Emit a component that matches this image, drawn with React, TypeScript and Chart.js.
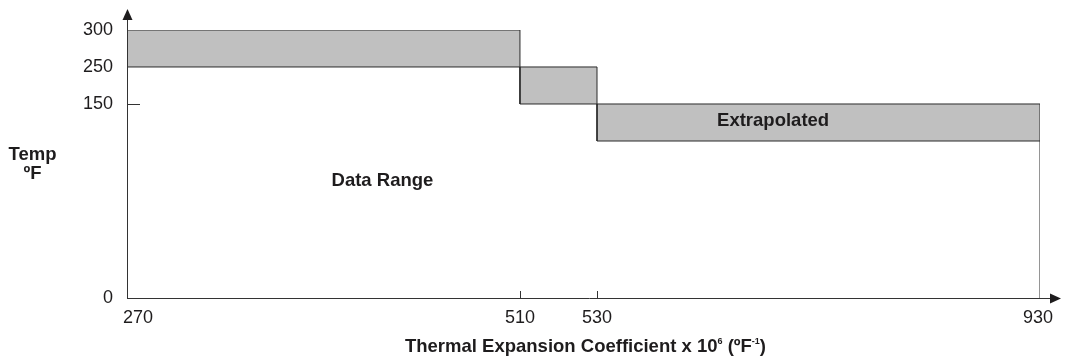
import React, { useEffect, useRef } from "react";
import { Chart, registerables, LinearScale } from "chart.js";

Chart.register(...registerables);

// ---- data ----
const xTickValues = [270, 510, 530, 930];
const yTickValues = [0, 150, 250, 300];
const boxNames = ["Upper step", "Middle step", "Extrapolated"];
const boxXStart = [270, 510, 530];
const boxXEnd = [510, 530, 930];
const boxYLow = [250, 150, 100];
const boxYHigh = [300, 250, 150];
const dataRangeEdgeX = [930, 930];
const dataRangeEdgeY = [0, 100];

// ---- schematic (piecewise) axis layout ----
const xBreakValues = [270, 510, 530, 930];
const xBreakFractions = [0, 0.4304, 0.5148, 1];
const yBreakValues = [0, 100, 150, 250, 300];
const yBreakFractions = [0, 0.5858, 0.7239, 0.862, 1];

const BREAKS: Record<string, { v: number[]; f: number[] }> = {
  x: { v: xBreakValues, f: xBreakFractions },
  y: { v: yBreakValues, f: yBreakFractions },
};

class PiecewiseScale extends LinearScale {
  static id = "piecewise";
  static defaults = {};
  getPixelForValue(value: number) {
    const b = BREAKS[(this as any).id];
    const v = b.v, f = b.f;
    let i = 0;
    while (i < v.length - 2 && value > v[i + 1]) i++;
    const dec = f[i] + ((value - v[i]) / (v[i + 1] - v[i])) * (f[i + 1] - f[i]);
    return (this as any).getPixelForDecimal(dec);
  }
  getValueForPixel(pixel: number) {
    const b = BREAKS[(this as any).id];
    const v = b.v, f = b.f;
    const dec = (this as any).getDecimalForPixel(pixel);
    let i = 0;
    while (i < f.length - 2 && dec > f[i + 1]) i++;
    return v[i] + ((dec - f[i]) / (f[i + 1] - f[i])) * (v[i + 1] - v[i]);
  }
}
Chart.register(PiecewiseScale as any);

const FONT = "'Liberation Sans', Arial, Helvetica, sans-serif";
const INK = "#1e1c1d";

const decorPlugin = {
  id: "decor",
  afterDraw(chart: any) {
    const ctx = chart.ctx as CanvasRenderingContext2D;
    const { left, right, top, bottom } = chart.chartArea;
    const xs = chart.scales.x;
    const ys = chart.scales.y;
    ctx.save();
    ctx.strokeStyle = "#333";
    ctx.fillStyle = INK;
    ctx.lineWidth = 1;
    // y axis with arrow
    ctx.beginPath();
    ctx.moveTo(left + 0.5, bottom + 0.5);
    ctx.lineTo(left + 0.5, top - 19);
    ctx.stroke();
    ctx.beginPath();
    ctx.moveTo(left + 0.5, top - 21);
    ctx.lineTo(left - 4.5, top - 10);
    ctx.lineTo(left + 5.5, top - 10);
    ctx.closePath();
    ctx.fill();
    // x axis with arrow
    ctx.beginPath();
    ctx.moveTo(left, bottom + 0.5);
    ctx.lineTo(right + 12, bottom + 0.5);
    ctx.stroke();
    ctx.beginPath();
    ctx.moveTo(right + 21, bottom + 0.5);
    ctx.lineTo(right + 10, bottom - 4.5);
    ctx.lineTo(right + 10, bottom + 5.5);
    ctx.closePath();
    ctx.fill();
    // inner ticks
    const y150 = Math.round(ys.getPixelForValue(150)) + 0.5;
    ctx.beginPath();
    ctx.moveTo(left, y150);
    ctx.lineTo(left + 13, y150);
    for (const v of [510, 530]) {
      const px = Math.round(xs.getPixelForValue(v)) + 0.5;
      ctx.moveTo(px, bottom);
      ctx.lineTo(px, bottom - 7);
    }
    ctx.stroke();
    // x tick labels
    ctx.font = `18px ${FONT}`;
    ctx.textBaseline = "alphabetic";
    ctx.fillStyle = INK;
    xTickValues.forEach((v, i) => {
      const px = xs.getPixelForValue(v);
      ctx.textAlign = "center";
      const shift = i === 0 ? 11 : i === xTickValues.length - 1 ? -2 : 0;
      ctx.fillText(String(v), px + shift, bottom + 25);
    });
    // y title
    const boldF = `bold 18.5px ${FONT}`;
    ctx.font = boldF;
    ctx.textAlign = "center";
    ctx.fillText("Temp", 32.5, 160);
    ctx.fillText("ºF", 32.5, 179);
    // x title with superscripts
    const parts: [string, boolean][] = [
      ["Thermal Expansion Coefficient x 10", false],
      ["6", true],
      [" (ºF", false],
      ["-1", true],
      [")", false],
    ];
    const supF = `bold 9px ${FONT}`;
    let total = 0;
    for (const [t, s] of parts) {
      ctx.font = s ? supF : boldF;
      total += ctx.measureText(t).width;
    }
    let cx = 585.5 - total / 2;
    ctx.textAlign = "left";
    for (const [t, s] of parts) {
      ctx.font = s ? supF : boldF;
      ctx.fillText(t, cx, s ? 344 : 352);
      cx += ctx.measureText(t).width;
    }
    // annotations
    ctx.font = boldF;
    ctx.textAlign = "center";
    ctx.textBaseline = "middle";
    ctx.fillText("Data Range", xs.getPixelForValue(426), ys.getPixelForValue(74.5));
    ctx.fillText(boxNames[2], xs.getPixelForValue(689), ys.getPixelForValue(127));
    ctx.restore();
  },
};

export default function App() {
  const ref = useRef<HTMLCanvasElement | null>(null);
  useEffect(() => {
    if (!ref.current) return;
    const datasets: any[] = boxNames.map((name, i) => ({
      label: name,
      data: [
        { x: boxXStart[i], y: boxYLow[i] },
        { x: boxXEnd[i], y: boxYLow[i] },
        { x: boxXEnd[i], y: boxYHigh[i] },
        { x: boxXStart[i], y: boxYHigh[i] },
        { x: boxXStart[i], y: boxYLow[i] },
      ],
      fill: "shape",
      backgroundColor: "#c0c0c0",
      borderColor: "#2a2a2a",
      borderWidth: 1,
      pointRadius: 0,
      tension: 0,
    }));
    datasets.push({
      label: "Data range edge",
      data: dataRangeEdgeX.map((x, i) => ({ x, y: dataRangeEdgeY[i] })),
      fill: false,
      borderColor: "#2a2a2a",
      borderWidth: 1,
      pointRadius: 0,
    });
    const chart = new Chart(ref.current, {
      type: "line",
      data: { datasets },
      options: {
        animation: false,
        responsive: false,
        events: [],
        layout: { padding: { top: 30, right: 35, left: 0, bottom: 0 } },
        plugins: { legend: { display: false }, tooltip: { enabled: false } },
        scales: {
          x: {
            type: "piecewise" as any,
            min: 270,
            max: 930,
            grid: { display: false, drawTicks: false },
            border: { display: false },
            ticks: { display: false },
            afterBuildTicks: (s: any) => {
              s.ticks = xTickValues.map((v) => ({ value: v }));
            },
            afterFit: (s: any) => {
              s.height = 64;
            },
          },
          y: {
            type: "piecewise" as any,
            min: 0,
            max: 300,
            grid: { display: false, drawTicks: false },
            border: { display: false },
            ticks: {
              display: true,
              padding: 14,
              color: INK,
              font: { family: FONT, size: 18 },
              callback: (v: any) => String(v),
            },
            afterBuildTicks: (s: any) => {
              s.ticks = yTickValues.map((v) => ({ value: v }));
            },
            afterFit: (s: any) => {
              s.width = 127;
            },
          },
        },
      } as any,
      plugins: [decorPlugin],
    });
    return () => chart.destroy();
  }, []);
  return (
    <div style={{ position: "absolute", left: 0, top: 0, width: 1075, height: 362, background: "#fff" }}>
      <canvas ref={ref} width={1075} height={362} style={{ width: 1075, height: 362, display: "block" }} />
    </div>
  );
}
